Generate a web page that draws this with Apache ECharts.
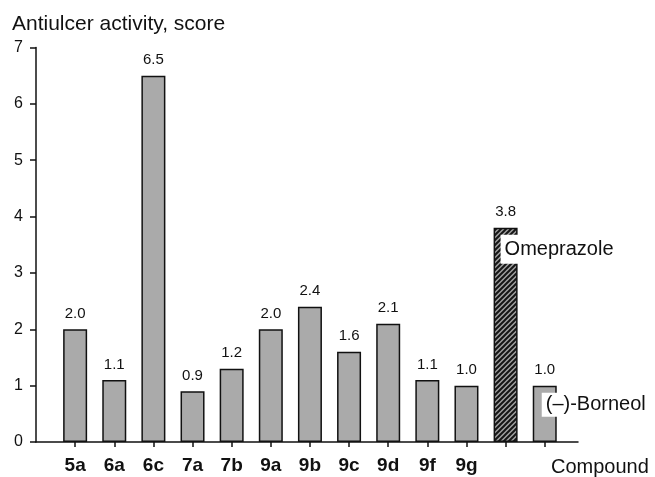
<!DOCTYPE html>
<html>
<head>
<meta charset="utf-8">
<script src="https://cdn.jsdelivr.net/npm/echarts@6/dist/echarts.min.js"></script>
<style>html,body{margin:0;padding:0;background:#fff;}#c{width:655px;height:477px;}</style>
</head>
<body>
<div id="c"></div>
<script>
var categories = ['5a','6a','6c','7a','7b','9a','9b','9c','9d','9f','9g','Omeprazole','(\u2013)-Borneol'];
var tickLabels = ['5a','6a','6c','7a','7b','9a','9b','9c','9d','9f','9g','',''];
var scores = [2.0,1.1,6.5,0.9,1.3,2.0,2.4,1.6,2.1,1.1,1.0,3.8,1.0];
var scoreLabels = ['2.0','1.1','6.5','0.9','1.2','2.0','2.4','1.6','2.1','1.1','1.0','3.8','1.0'];
var yTicks = [0,1,2,3,4,5,6,7];

var FONT = "'Liberation Sans', Arial, Helvetica, sans-serif";

// hatch pattern for reference drug
var pc = document.createElement('canvas');
pc.width = 5; pc.height = 5;
var g = pc.getContext('2d');
g.fillStyle = '#a0a0a0'; g.fillRect(0,0,5,5);
g.strokeStyle = '#151515'; g.lineWidth = 2;
g.beginPath();
g.moveTo(0,5); g.lineTo(5,0);
g.moveTo(-1,1); g.lineTo(1,-1);
g.moveTo(4,6); g.lineTo(6,4);
g.stroke();

var barData = scores.map(function(v, i){
  var item = { value: [i + 1, v] };
  if (categories[i] === 'Omeprazole') {
    item.itemStyle = { color: { image: pc, repeat: 'repeat' } };
  }
  return item;
});

var idxOme = categories.indexOf('Omeprazole') + 1;
var idxBor = categories.indexOf('(\u2013)-Borneol') + 1;

var chart = echarts.init(document.getElementById('c'), null, {renderer: 'canvas'});
chart.setOption({
  animation: false,
  backgroundColor: '#fff',
  title: {
    text: 'Antiulcer activity, score',
    left: 12, top: 14, padding: 0,
    textStyle: { fontFamily: FONT, fontSize: 21, fontWeight: 'normal', color: '#111' }
  },
  grid: { left: 36, right: 77, top: 47.5, bottom: 35 },
  xAxis: {
    type: 'value', min: 0, max: 13.85,
    name: 'Compound', nameLocation: 'end', nameGap: -27,
    nameTextStyle: { fontFamily: FONT, fontSize: 20, color: '#111', verticalAlign: 'top', padding: [15,0,0,0] },
    axisLine: { show: true, lineStyle: { color: '#111', width: 1.5 } },
    axisTick: { show: true, length: 5, lineStyle: { color: '#111', width: 1.5 },
      customValues: categories.map(function(c, i){ return i + 1; }) },
    axisLabel: {
      customValues: tickLabels.map(function(c, i){ return i + 1; }),
      margin: 14,
      fontFamily: FONT, fontSize: 19, fontWeight: 'bold', color: '#111',
      formatter: function(v){ var i = Math.round(v) - 1; return tickLabels[i] || ''; }
    },
    splitLine: { show: false }
  },
  yAxis: {
    type: 'value', min: 0, max: 7, interval: 1,
    axisLine: { show: true, lineStyle: { color: '#111', width: 1.5 } },
    axisTick: { show: true, length: 6, lineStyle: { color: '#111', width: 1.5 } },
    axisLabel: { margin: 13, fontFamily: FONT, fontSize: 16, color: '#111',
      formatter: function(v){ return yTicks.indexOf(v) >= 0 ? String(v) : ''; } },
    splitLine: { show: false }
  },
  series: [
    {
      type: 'bar',
      data: barData,
      barWidth: 24,
      itemStyle: { color: '#aaaaaa', borderColor: '#111', borderWidth: 1.5 },
      label: {
        show: true, position: 'top', distance: 8,
        fontFamily: FONT, fontSize: 15, color: '#111',
        formatter: function(p){ return scoreLabels[p.dataIndex]; }
      },
      z: 2
    },
    {
      type: 'scatter',
      symbolSize: 0,
      z: 5,
      silent: true,
      itemStyle: { opacity: 1 },
      emphasis: { disabled: true },
      data: [
        { value: [idxOme, 3.42], name: categories[idxOme - 1], label: { offset: [-5, 0], padding: [5, 3, 4, 4] } },
        { value: [idxBor, 0.66], name: categories[idxBor - 1], label: { offset: [-3, 0], padding: [2, 3, 2, 4] } }
      ],
      label: {
        show: true, position: 'right', distance: 0,
        fontFamily: FONT, fontSize: 20, color: '#111',
        backgroundColor: '#fff',
        formatter: function(p){ return p.name; }
      }
    }
  ]
});
</script>
</body>
</html>
